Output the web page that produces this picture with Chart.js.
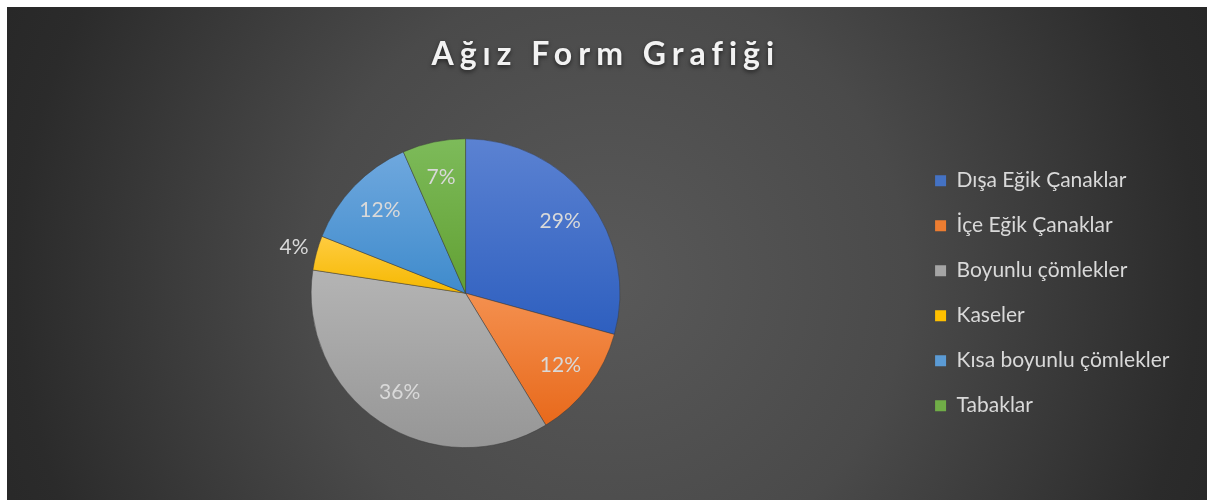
<!DOCTYPE html>
<html>
<head>
<meta charset="utf-8">
<script src="https://cdn.jsdelivr.net/npm/chart.js@4.4.1/dist/chart.umd.min.js"></script>
<style>
  html, body { margin: 0; padding: 0; background: #fff; }
  #frame {
    position: absolute; left: 7px; top: 7px; width: 1200px; height: 493px;
    background: radial-gradient(circle at 50% 55%, #595959 0px, #4a4a4a 300px, #2b2b2b 590px, #262626 700px);
  }
</style>
</head>
<body>
<div id="frame"><canvas id="c"></canvas></div>
<script>
const categories = ["Dışa Eğik Çanaklar", "İçe Eğik Çanaklar", "Boyunlu çömlekler", "Kaseler", "Kısa boyunlu çömlekler", "Tabaklar"];
const shares = [29.3, 12.0, 36.1, 3.6, 12.4, 6.6];
const legendColors = ["#4472c4", "#ed7d31", "#a5a5a5", "#ffc000", "#5b9bd5", "#70ad47"];
const topColors = ["#5b82d2", "#f4904f", "#b4b4b4", "#ffcc40", "#6fa8de", "#7dbb5a"];
const bottomColors = ["#2e5fbf", "#e8691b", "#969696", "#f5b800", "#3f8bcc", "#62a033"];

const total = shares.reduce((a, b) => a + b, 0);

// vertical gradient across each slice's own height
function sliceFill(context) {
  const i = context.dataIndex;
  const area = context.chart.chartArea;
  if (!area) return bottomColors[i];
  const cy = (area.top + area.bottom) / 2;
  const r = Math.min(area.right - area.left, area.bottom - area.top) / 2;
  let before = 0;
  for (let k = 0; k < i; k++) before += shares[k];
  const a0 = -Math.PI / 2 + before / total * 2 * Math.PI;
  const a1 = a0 + shares[i] / total * 2 * Math.PI;
  const ys = [cy, cy + r * Math.sin(a0), cy + r * Math.sin(a1)];
  for (const a of [-Math.PI / 2, Math.PI / 2, 3 * Math.PI / 2]) {
    if (a >= a0 && a <= a1) ys.push(cy + r * Math.sin(a));
  }
  const g = context.chart.ctx.createLinearGradient(0, Math.min(...ys), 0, Math.max(...ys));
  g.addColorStop(0, topColors[i]);
  g.addColorStop(1, bottomColors[i]);
  return g;
}

// percentage labels on the slices
const pctLabels = {
  id: "pctLabels",
  afterDatasetsDraw(chart) {
    const { ctx } = chart;
    const meta = chart.getDatasetMeta(0);
    ctx.save();
    ctx.font = "21px Lato";
    ctx.fillStyle = "#d9d9d9";
    ctx.textAlign = "center";
    ctx.textBaseline = "middle";
    meta.data.forEach((arc, i) => {
      const mid = (arc.startAngle + arc.endAngle) / 2;
      const outside = shares[i] / total < 0.05;
      const d = arc.outerRadius * (outside ? 1.15 : 0.77);
      ctx.fillText(Math.round(shares[i] / total * 100) + "%", arc.x + Math.cos(mid) * d, arc.y + Math.sin(mid) * d);
    });
    ctx.restore();
  }
};

// letter spacing + soft shadow for the title only
const titleStyle = {
  id: "titleStyle",
  afterUpdate(chart) {
    const t = chart.titleBlock;
    if (!t || t._styled) return;
    const orig = t.draw.bind(t);
    t.draw = (area) => {
      const ctx = chart.ctx;
      ctx.save();
      ctx.translate(6, -1);
      ctx.letterSpacing = "6px";
      ctx.shadowColor = "rgba(0,0,0,0.55)";
      ctx.shadowBlur = 4;
      ctx.shadowOffsetY = 2;
      orig(area);
      ctx.restore();
    };
    t._styled = true;
  }
};

new Chart(document.getElementById("c"), {
  type: "pie",
  data: {
    labels: categories,
    datasets: [{
      data: shares,
      backgroundColor: sliceFill,
      borderColor: "rgba(60,60,60,0.6)",
      borderWidth: 0.8,
      hoverOffset: 0
    }]
  },
  options: {
    responsive: true,
    maintainAspectRatio: false,
    animation: false,
    events: [],
    layout: { padding: { left: 13, right: 27.5, top: 0, bottom: 52 } },
    plugins: {
      tooltip: { enabled: false },
      title: {
        display: true,
        text: "Ağız Form Grafiği",
        color: "#f2f2f2",
        font: { family: "Lato", size: 32, weight: "bold" },
        padding: { top: 29, bottom: 64 }
      },
      legend: {
        position: "right",
        fullSize: false,
        labels: {
          color: "#d9d9d9",
          font: { family: "Lato", size: 21 },
          boxWidth: 11,
          boxHeight: 11,
          padding: 24,
          generateLabels: () => categories.map((text, i) => ({
            text,
            fillStyle: legendColors[i],
            strokeStyle: legendColors[i],
            lineWidth: 0,
            hidden: false,
            index: i,
            fontColor: "#d9d9d9"
          }))
        }
      }
    }
  },
  plugins: [pctLabels, titleStyle]
});
</script>
</body>
</html>
